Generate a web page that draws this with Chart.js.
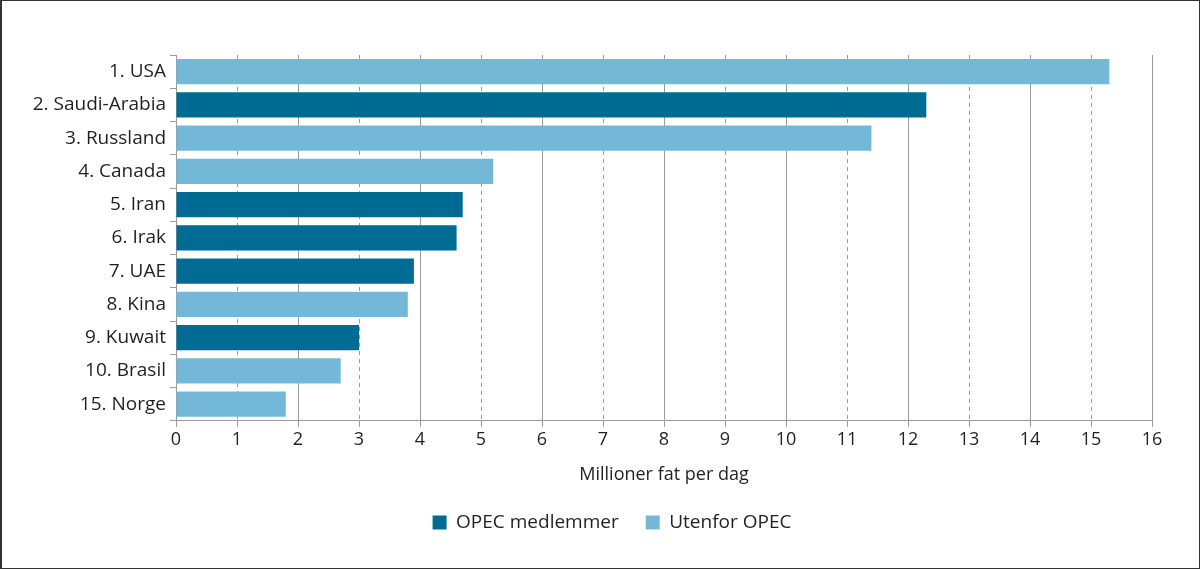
<!DOCTYPE html>
<html>
<head>
<meta charset="utf-8">
<script src="https://cdn.jsdelivr.net/npm/chart.js@4.4.1/dist/chart.umd.min.js"></script>
<style>
  html, body { margin: 0; padding: 0; background: #fff; }
  #wrap { position: relative; width: 1200px; height: 569px; }
  #wrap::after { content: ""; position: absolute; inset: 0; border: 1px solid #333; border-left-width: 2px; pointer-events: none; }
  canvas { display: block; }
</style>
</head>
<body>
<div id="wrap"><canvas id="chart" width="1200" height="569"></canvas></div>
<script>
// Oil production, million barrels per day
const countries = ["1. USA", "2. Saudi-Arabia", "3. Russland", "4. Canada", "5. Iran", "6. Irak",
  "7. UAE", "8. Kina", "9. Kuwait", "10. Brasil", "15. Norge"];
const production = [15.3, 12.3, 11.4, 5.2, 4.7, 4.6, 3.9, 3.8, 3.0, 2.7, 1.8];
const opecMember = [false, true, false, false, true, true, true, false, true, false, false];
const seriesNames = ["OPEC medlemmer", "Utenfor OPEC"];
const xTicks = [0, 16, 1]; // min, max, step

const DARK = "#006b93";
const LIGHT = "#74b8d8";
const TEXT = "#231f20";
const GRID = "#9b9b9b";
const FONT = "Open Sans";

Chart.defaults.font.family = FONT;
Chart.defaults.font.weight = 500;
Chart.defaults.color = TEXT;

// nudge the legend a bit to the right, like the original
const legendShift = {
  id: "legendShift",
  afterLayout(chart) {
    chart.legend.left += 36;
    chart.legend.right += 36;
  },
};

const ctx = document.getElementById("chart").getContext("2d");
const chart = new Chart(ctx, {
  type: "bar",
  data: {
    labels: countries,
    datasets: [
      {
        label: seriesNames[0],
        data: production.map((v, i) => (opecMember[i] ? v : null)),
        backgroundColor: DARK,
      },
      {
        label: seriesNames[1],
        data: production.map((v, i) => (opecMember[i] ? null : v)),
        backgroundColor: LIGHT,
      },
    ],
  },
  options: {
    indexAxis: "y",
    responsive: false,
    animation: false,
    datasets: { bar: { barPercentage: 0.76, categoryPercentage: 1 } },
    layout: { padding: { top: 55, right: 48, bottom: 27, left: 0 } },
    scales: {
      x: {
        stacked: true,
        min: xTicks[0],
        max: xTicks[1],
        ticks: { stepSize: xTicks[2], padding: 2, font: { size: 18 }, color: TEXT },
        grid: { color: GRID, lineWidth: 1, tickLength: 6 },
        border: {
          color: GRID,
          // odd values get dashed grid lines
          dash: (c) => (c.tick && c.tick.value % 2 ? [4, 4] : []),
        },
        title: {
          display: true,
          text: "Millioner fat per dag",
          font: { size: 18 },
          color: TEXT,
          padding: { top: 12, bottom: 0 },
        },
      },
      y: {
        stacked: true,
        ticks: { font: { size: 19 }, color: TEXT, padding: 4 },
        grid: { drawOnChartArea: false, color: GRID, tickLength: 6 },
        border: { color: GRID },
        afterFit: (scale) => { scale.width = 176; },
      },
    },
    plugins: {
      legend: {
        position: "bottom",
        labels: { boxWidth: 14, boxHeight: 14, padding: 27, font: { size: 19 }, color: TEXT },
      },
      tooltip: { enabled: false },
    },
  },
  plugins: [legendShift],
});
</script>
</body>
</html>
